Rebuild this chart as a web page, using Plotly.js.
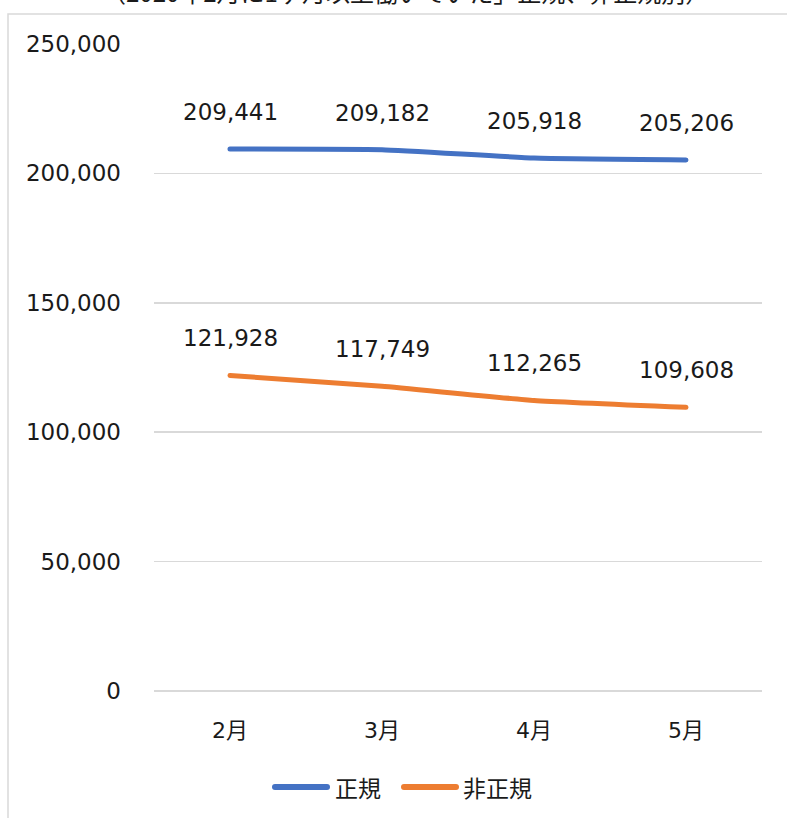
<!DOCTYPE html>
<html>
<head>
<meta charset="utf-8">
<script src="https://cdn.plot.ly/plotly-3.0.1.min.js"></script>
<style>html,body{margin:0;padding:0;background:#fff;}#chart{width:787px;height:818px;}</style>
</head>
<body>
<div id="chart"></div>
<script>
const months = ["2月", "3月", "4月", "5月"];
const regular = [209441, 209182, 205918, 205206];
const nonRegular = [121928, 117749, 112265, 109608];
const seriesNames = ["正規", "非正規"];
const yTicks = [0, 50000, 100000, 150000, 200000, 250000];
const titleText = "（2020年2月に1ヶ月以上働いていた」正規、非正規別）";

const FONT = "DejaVu Sans, Noto Sans CJK JP, sans-serif";
const CJK = "Noto Sans CJK JP, sans-serif";
const colors = ["#4472C4", "#ED7D31"];
const fmt = v => v.toLocaleString("en-US");
const PX = px => (px - 154) / 608;
const PY = py => (691 - py) / 647;

const traces = [regular, nonRegular].map((vals, i) => ({
  type: "scatter", mode: "lines", x: months, y: vals, name: seriesNames[i],
  line: {color: colors[i], width: 5, shape: "spline", smoothing: 0.4},
  hoverinfo: "skip", showlegend: false
}));

const annotations = [];
[regular, nonRegular].forEach(vals => {
  vals.forEach((v, j) => annotations.push({
    x: months[j], y: v, xref: "x", yref: "y", text: fmt(v), showarrow: false,
    yshift: 37, yanchor: "middle", xanchor: "center",
    font: {family: FONT, size: 23, color: "#1a1a1a"}
  }));
});
annotations.push({
  xref: "paper", yref: "paper", x: PX(405), y: PY(-8), text: titleText,
  showarrow: false, xanchor: "center", yanchor: "middle",
  font: {family: CJK, size: 24, color: "#1a1a1a"}
});

// custom legend (long line samples like the reference)
const legendItems = [
  {x0: 275, x1: 327, tx: 333},
  {x0: 404, x1: 456, tx: 461}
];
const shapes = [{type: "rect", xref: "paper", yref: "paper",
  x0: PX(8), x1: PX(800), y0: PY(830), y1: PY(14),
  line: {color: "#d9d9d9", width: 1.5}, layer: "below"}];
legendItems.forEach((it, i) => {
  shapes.push({type: "line", xref: "paper", yref: "paper",
    x0: PX(it.x0), x1: PX(it.x1), y0: PY(787), y1: PY(787),
    line: {color: colors[i], width: 6}});
  annotations.push({xref: "paper", yref: "paper", x: PX(it.tx), y: PY(787),
    text: seriesNames[i], showarrow: false, xanchor: "left", yanchor: "middle",
    font: {family: CJK, size: 23, color: "#1a1a1a"}});
});

const layout = {
  width: 787, height: 818,
  margin: {l: 154, r: 25, t: 44, b: 127},
  paper_bgcolor: "#fff", plot_bgcolor: "#fff",
  showlegend: false,
  xaxis: {type: "category", range: [-0.5, 3.5], showgrid: false, zeroline: false, showline: false, ticks: "",
    ticklabelstandoff: 24, tickfont: {family: FONT, size: 22, color: "#1a1a1a"}, fixedrange: true},
  yaxis: {range: [0, 250000], tickvals: yTicks, ticktext: yTicks.map(fmt),
    showgrid: true, gridcolor: "#d9d9d9", gridwidth: 1.5, zeroline: true, zerolinecolor: "#d9d9d9", zerolinewidth: 1.5,
    showline: false, ticks: "", ticklabelstandoff: 32,
    tickfont: {family: FONT, size: 23, color: "#1a1a1a"}, fixedrange: true},
  annotations: annotations,
  shapes: shapes
};

Plotly.newPlot("chart", traces, layout, {staticPlot: true, displayModeBar: false}).then(gd => {
  gd.querySelectorAll(".scatterlayer path.js-line").forEach(p => { p.style.strokeLinecap = "round"; });
  gd.querySelectorAll(".shapelayer path").forEach(p => { p.style.strokeLinecap = "round"; });
});
</script>
</body>
</html>
